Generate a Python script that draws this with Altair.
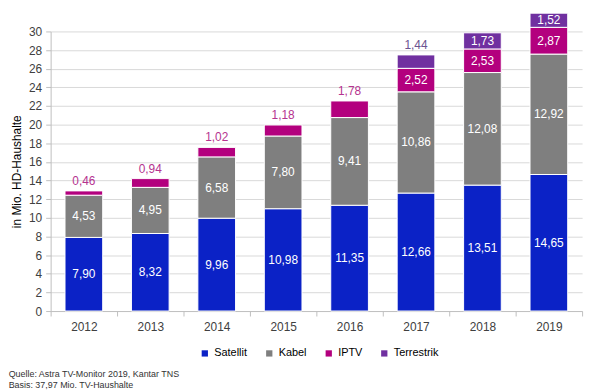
import altair as alt
import pandas as pd

years = ["2012", "2013", "2014", "2015", "2016", "2017", "2018", "2019"]
series = ["Satellit", "Kabel", "IPTV", "Terrestrik"]
satellit = [7.90, 8.32, 9.96, 10.98, 11.35, 12.66, 13.51, 14.65]
kabel = [4.53, 4.95, 6.58, 7.80, 9.41, 10.86, 12.08, 12.92]
iptv = [0.46, 0.94, 1.02, 1.18, 1.78, 2.52, 2.53, 2.87]
terrestrik = [None, None, None, None, None, 1.44, 1.73, 1.52]
colors = ["#0B22C6", "#7F7F7F", "#B3007E", "#7030A0"]
labels_above = [("2012", "IPTV"), ("2013", "IPTV"), ("2014", "IPTV"),
                ("2015", "IPTV"), ("2016", "IPTV"), ("2017", "Terrestrik")]
above_colors = {"IPTV": "#B5338F", "Terrestrik": "#6B5390"}

rows = []
for s_i, (name, vals) in enumerate(zip(series, [satellit, kabel, iptv, terrestrik])):
    for y, v in zip(years, vals):
        if v is None:
            continue
        above = (y, name) in labels_above
        rows.append({
            "year": y, "series": name, "value": v, "order": s_i,
            "pos": "above" if above else "inside",
            "lcolor": above_colors.get(name, "#FFFFFF") if above else "#FFFFFF",
        })
df = pd.DataFrame(rows)

FONT = "Liberation Sans"
TITLE_Y = "in Mio. HD-Haushalte"
yscale = alt.Scale(domain=[0, 30], nice=False, zero=True)
xscale = alt.Scale(paddingInner=0, paddingOuter=0)
xaxis = alt.Axis(labelAngle=0, labelFontSize=12, labelColor="#404040",
                 labelFont=FONT, labelPadding=6, tickBand="extent",
                 tickSize=5, tickColor="#BFBFBF", domainColor="#BFBFBF",
                 grid=False)
yaxis = alt.Axis(values=list(range(0, 31, 2)), labelOverlap=False,
                 labelFontSize=12, labelColor="#404040", labelFont=FONT,
                 titleFont=FONT, titleFontSize=12, titleFontWeight="normal",
                 titleColor="#000000", titlePadding=5, gridColor="#D9D9D9",
                 domainColor="#BFBFBF", tickColor="#BFBFBF", tickSize=5,
                 labelPadding=4)

bars = alt.Chart(df).mark_bar(size=38, stroke="white", strokeWidth=1).encode(
    x=alt.X("year:N", title=None, sort=years, scale=xscale, axis=xaxis),
    y=alt.Y("value:Q", stack="zero", scale=yscale, title=TITLE_Y, axis=yaxis),
    color=alt.Color("series:N", scale=alt.Scale(domain=series, range=colors),
                    legend=alt.Legend(title=None, orient="none", direction="horizontal",
                                      legendX=150, legendY=319,
                                      symbolType="square", symbolSize=40,
                                      labelFontSize=11, labelFont=FONT, labelColor="#000000",
                                      columnPadding=16, symbolStrokeWidth=0)),
    order=alt.Order("order:Q"),
)

stacked = alt.Chart(df).transform_stack(
    stack="value", groupby=["year"], as_=["y0", "y1"],
    sort=[alt.SortField("order", order="ascending")]
).transform_calculate(
    mid="(datum.y0 + datum.y1) / 2",
    label="replace(format(datum.value, '.2f'), '.', ',')",
)

inside = stacked.transform_filter("datum.pos == 'inside'").mark_text(
    font=FONT, fontSize=12, color="white", baseline="middle"
).encode(x=alt.X("year:N", title=None, sort=years, scale=xscale, axis=xaxis),
         y=alt.Y("mid:Q", scale=yscale, title=TITLE_Y, axis=yaxis), text="label:N")

above = stacked.transform_filter("datum.pos == 'above'").mark_text(
    font=FONT, fontSize=12, baseline="bottom", dy=-3
).encode(x=alt.X("year:N", title=None, sort=years, scale=xscale, axis=xaxis),
         y=alt.Y("y1:Q", scale=yscale, title=TITLE_Y, axis=yaxis), text="label:N",
         color=alt.Color("lcolor:N", scale=None))

chart = alt.layer(bars, inside, above).properties(
    width=536, height=282,
    autosize=alt.AutoSizeParams(type="none"),
    padding={"left": 43, "top": 22, "right": 10, "bottom": 78},
    title=alt.TitleParams(["Quelle: Astra TV-Monitor 2019, Kantar TNS",
                           "Basis: 37,97 Mio. TV-Haushalte"],
                          orient="bottom", anchor="start", frame="bounds",
                          fontSize=9, fontWeight="normal", font=FONT,
                          color="#333333", offset=12, lineHeight=11, dx=-2),
).configure_view(stroke=None)

chart.save("out.html", embed_options={"renderer": "svg", "actions": False})
